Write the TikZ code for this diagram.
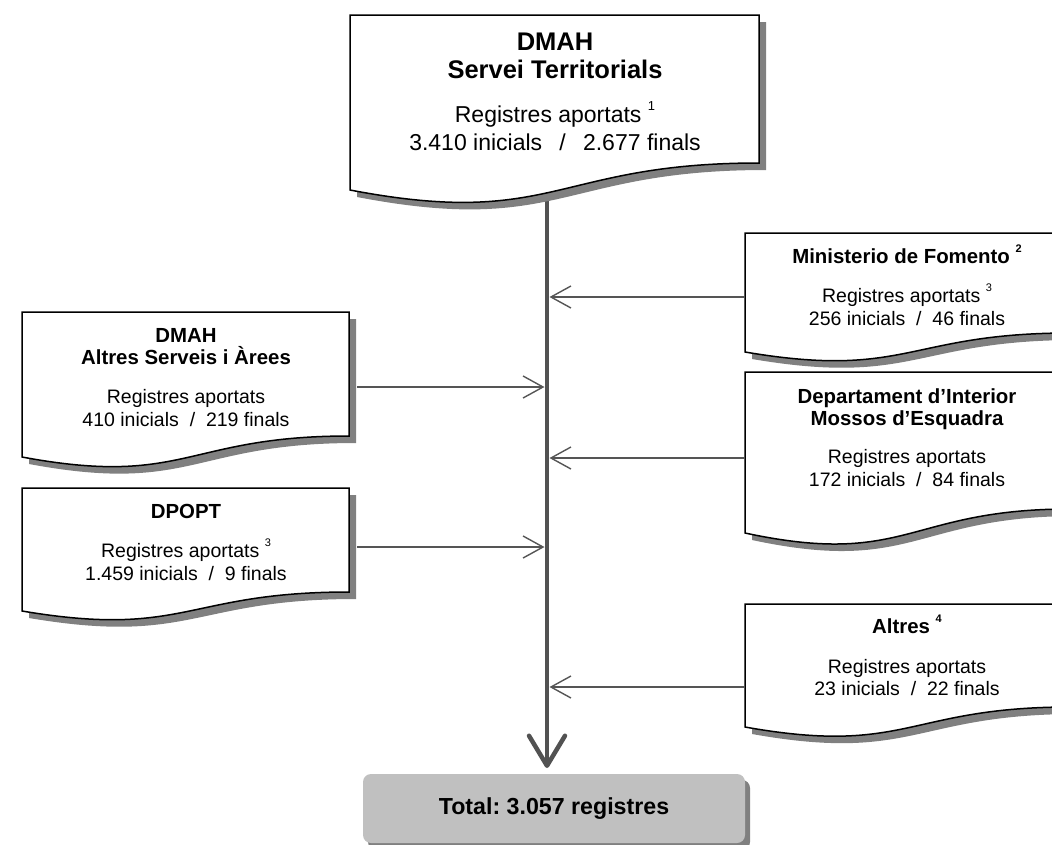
\documentclass[tikz,border=0pt]{standalone}
\usepackage{fontspec}
\setmainfont{Liberation Sans}
\usetikzlibrary{arrows.meta,calc}
\definecolor{shad}{HTML}{808080}
\definecolor{spinec}{HTML}{525252}
\definecolor{connc}{HTML}{555555}
\definecolor{totfill}{HTML}{C0C0C0}
\frenchspacing
\newcommand\docbox[5]{%
  \fill[shad] ({#1+7},{#2+7}) -- ({#3+7},{#2+7}) -- ({#3+7},{#5+7}) .. controls ({(#1+#3)/2+7},{#5+7}) and ({(#1+#3)/2+7},{#4+1.45*(#4-#5)+7}) .. ({#1+7},{#4+7}) -- cycle;
  \draw[boxline] (#1,#2) -- (#3,#2) -- (#3,#5) .. controls ({(#1+#3)/2},#5) and ({(#1+#3)/2},{#4+1.45*(#4-#5)}) .. (#1,#4) -- cycle;
}
\newcommand\supsmall[1]{\raisebox{11pt}{\fontsize{11}{11}\selectfont #1}}
\newcommand\supbig[1]{\raisebox{12pt}{\fontsize{13}{13}\selectfont #1}}
\newcommand\slashsep{\hspace{0.75em}/\hspace{0.75em}}
\tikzset{
  boxline/.style={draw=black, line width=1.5pt, fill=white, line join=miter},
  bigttl/.style={font=\fontsize{25.5}{28}\selectfont\bfseries, anchor=base, inner sep=0pt},
  bigbody/.style={font=\fontsize{23}{26}\selectfont, anchor=base, inner sep=0pt},
  ttl/.style={font=\fontsize{20.4}{22}\selectfont\bfseries, anchor=base, inner sep=0pt},
  body/.style={font=\fontsize{19.5}{22}\selectfont, anchor=base, inner sep=0pt},
  spine/.style={draw=spinec, line width=4.5pt, -{Straight Barb[length=30pt,width=36pt,round]}},
  conn/.style={draw=connc, line width=1.4pt, -{Straight Barb[length=20pt,width=22pt]}},
  totbox/.style={fill=totfill, rounded corners=8pt, minimum width=382pt, minimum height=69pt, inner sep=0pt, font=\fontsize{23.2}{26}\selectfont\bfseries}
}
\begin{document}
\begin{tikzpicture}[x=1pt,y=-1pt]
\useasboundingbox (0,0) rectangle (1052,844);
\clip (0,0) rectangle (1052,844);
% spine
\coordinate (sptop) at (547,180);
\coordinate (spbot) at (547,768);
\draw[spine] (sptop) -- (spbot);
% boxes
\docbox{350}{15}{759}{190}{163}
\docbox{22}{312}{349}{457}{436}
\docbox{22}{488}{349}{611}{592}
\docbox{745}{233}{1070}{352}{333}
\docbox{745}{372}{1070}{533}{509}
\docbox{745}{604}{1070}{727}{707}
% top box text
\node[bigttl] (t-dmah) at (555,50) {DMAH};
\node[bigttl] (t-serv) at (555,78) {Servei Territorials};
\node[bigbody] (t-reg) at (555,122) {Registres aportats \supbig{1}};
\node[bigbody] (t-num) at (555,150) {3.410 inicials\slashsep 2.677 finals};
% left box 1
\node[ttl] (a-dmah) at (186,342) {DMAH};
\node[ttl] (a-alt) at (186,364) {Altres Serveis i Àrees};
\node[body] (a-reg) at (186,403) {Registres aportats};
\node[body] (a-num) at (186,426) {410 inicials\ \ /\ \ 219 finals};
% DPOPT
\node[ttl] (d-tit) at (186,518) {DPOPT};
\node[body] (d-reg) at (186,557) {Registres aportats \supsmall{3}};
\node[body] (d-num) at (186,580) {1.459 inicials\ \ /\ \ 9 finals};
% Ministerio
\node[ttl] (m-tit) at (907,263) {Ministerio de Fomento \supsmall{2}};
\node[body] (m-reg) at (907,302) {Registres aportats \supsmall{3}};
\node[body] (m-num) at (907,325) {256 inicials\ \ /\ \ 46 finals};
% Interior
\node[ttl] (i-dep) at (907,403) {Departament d’Interior};
\node[ttl] (i-mos) at (907,425) {Mossos d’Esquadra};
\node[body] (i-reg) at (907,463) {Registres aportats};
\node[body] (i-num) at (907,486) {172 inicials\ \ /\ \ 84 finals};
% Altres
\node[ttl] (o-tit) at (907,633) {Altres \supsmall{4}};
\node[body] (o-reg) at (907,673) {Registres aportats};
\node[body] (o-num) at (907,695) {23 inicials\ \ /\ \ 22 finals};
% connectors
\coordinate (p-alt) at (357,387);
\coordinate (p-dpo) at (357,547);
\coordinate (p-min) at (745,297);
\coordinate (p-int) at (745,458);
\coordinate (p-oth) at (745,687);
\draw[conn] (p-alt) -- ($(p-alt -| sptop)+(-2.5,0)$);
\draw[conn] (p-dpo) -- ($(p-dpo -| sptop)+(-2.5,0)$);
\draw[conn] (p-min) -- ($(p-min -| sptop)+(2.5,0)$);
\draw[conn] (p-int) -- ($(p-int -| sptop)+(2.5,0)$);
\draw[conn] (p-oth) -- ($(p-oth -| sptop)+(2.5,0)$);
% total
\fill[shad, rounded corners=8pt] (368,780) rectangle (750,850);
\node[totbox] (total) at (554,808.5) {Total: 3.057 registres};
\end{tikzpicture}
\end{document}
